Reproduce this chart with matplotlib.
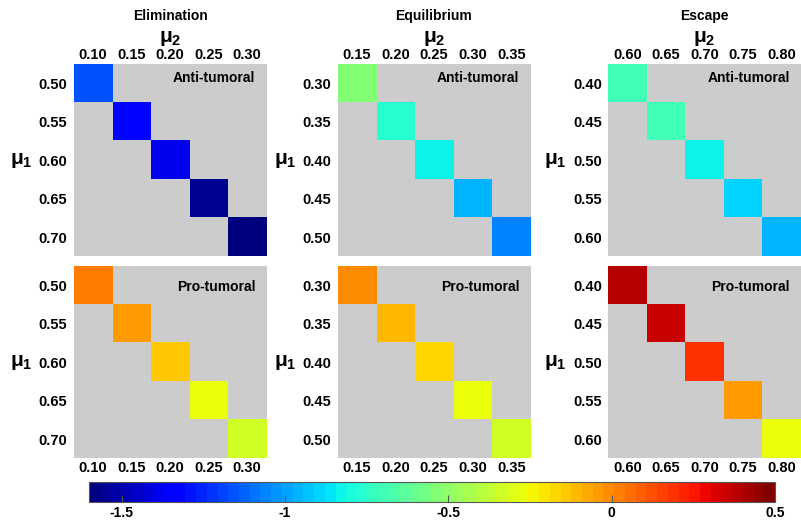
import numpy as np
import matplotlib
matplotlib.use("Agg")
import matplotlib.pyplot as plt
from matplotlib.colors import Normalize

plt.rcParams['font.family'] = ['Liberation Sans', 'DejaVu Sans']

titles = ["Elimination", "Equilibrium", "Escape"]
mu2_ticks = [["0.10", "0.15", "0.20", "0.25", "0.30"],
             ["0.15", "0.20", "0.25", "0.30", "0.35"],
             ["0.60", "0.65", "0.70", "0.75", "0.80"]]
mu1_ticks = [["0.50", "0.55", "0.60", "0.65", "0.70"],
             ["0.30", "0.35", "0.40", "0.45", "0.50"],
             ["0.40", "0.45", "0.50", "0.55", "0.60"]]
row_labels = ["Anti-tumoral", "Pro-tumoral"]

# diagonal values (colour-scale values) for each panel
anti_elimination = [-1.17, -1.33, -1.40, -1.54, -1.59]
anti_equilibrium = [-0.54, -0.75, -0.84, -0.95, -1.05]
anti_escape = [-0.69, -0.70, -0.83, -0.89, -0.95]
pro_elimination = [0.03, -0.05, -0.14, -0.26, -0.33]
pro_equilibrium = [0.00, -0.10, -0.18, -0.26, -0.33]
pro_escape = [0.39, 0.35, 0.20, -0.05, -0.26]

values = [[anti_elimination, anti_equilibrium, anti_escape],
          [pro_elimination, pro_equilibrium, pro_escape]]

cbar_ticks = [-1.5, -1, -0.5, 0, 0.5]
cbar_ticklabels = ["-1.5", "-1", "-0.5", "0", "0.5"]
vmin, vmax = -1.6, 0.5

W, H = 801, 520
fig = plt.figure(figsize=(W / 100, H / 100), dpi=100)

cmap = plt.get_cmap('jet', 64).copy()
cmap.set_bad('#cccccc')
norm = Normalize(vmin=vmin, vmax=vmax)

col_left = [73.5, 337.5, 608]
row_top = [64, 266]
pw, ph = 193, 192.5

im = None
for r in range(2):
    for c in range(3):
        left = col_left[c] / W
        bottom = 1 - (row_top[r] + ph) / H
        ax = fig.add_axes([left, bottom, pw / W, ph / H])
        mat = np.full((5, 5), np.nan)
        for i, v in enumerate(values[r][c]):
            mat[i, i] = v
        im = ax.imshow(np.ma.masked_invalid(mat), cmap=cmap, norm=norm,
                       aspect='auto', interpolation='nearest')
        for s in ax.spines.values():
            s.set_visible(False)
        ax.set_xticks(range(5))
        ax.set_yticks(range(5))
        ax.set_yticklabels(mu1_ticks[c], fontsize=10.5, fontweight='bold')
        if r == 0:
            ax.xaxis.tick_top()
        ax.set_xticklabels(mu2_ticks[c], fontsize=10.5, fontweight='bold')
        ax.tick_params(length=0)
        ax.tick_params(axis='x', pad=1.5)
        ax.tick_params(axis='y', pad=4.5)
        ty = 0.928 if r == 0 else 0.893
        ax.text(0.942, ty, row_labels[r], transform=ax.transAxes,
                ha='right', va='center', fontsize=10, fontweight='bold')
        # mu1 label
        cy = row_top[r] + ph / 2
        fig.text((col_left[c] - 41) / W, 1 - cy / H, r'$\mathregular{\mu_1}$',
                 ha='right', va='center', fontsize=15, fontweight='bold')
        if r == 0:
            cx = col_left[c] + pw / 2
            fig.text(cx / W, 1 - 42 / H, r'$\mathregular{\mu_2}$',
                     ha='center', va='baseline', fontsize=15, fontweight='bold')
            fig.text(cx / W, 1 - 16 / H, titles[c], ha='center', va='center',
                     fontsize=10, fontweight='bold')

cax = fig.add_axes([89 / W, 1 - 502 / H, 686 / W, 20 / H])
cb = fig.colorbar(im, cax=cax, orientation='horizontal')
cb.set_ticks(cbar_ticks)
cb.set_ticklabels(cbar_ticklabels)
cb.ax.tick_params(direction='in', length=5, width=0.8, color='#555555',
                  labelsize=10, pad=3)
for lbl in cb.ax.get_xticklabels():
    lbl.set_fontweight('bold')
cb.outline.set_edgecolor('#555555')
cb.outline.set_linewidth(0.8)

fig.savefig('out.png', dpi=100)
